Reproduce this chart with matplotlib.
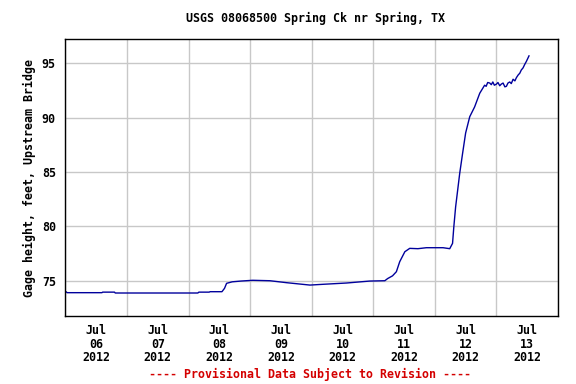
import numpy as np
import pandas as pd
import matplotlib
matplotlib.use("Agg")
import matplotlib.pyplot as plt
import matplotlib.dates as mdates

# hours after 2012-07-06 00:00 and gage height (ft)
hours = [0.0, 0.3, 0.6, 14.2, 14.5, 19.1, 19.4, 51.6, 52.0, 56.0, 56.4, 61.0, 62.0,
         62.8, 65.0, 68.4, 73.0, 79.7, 86.2, 95.3, 100.3, 109.6, 118.6, 124.5,
         125.6, 127.5, 129.0, 130.3, 132.3, 134.2, 137.4, 140.7, 147.2, 149.8,
         150.9, 151.4, 152.1, 153.7, 154.8, 156.0, 157.6, 159.5, 161.5, 163.4,
         164.0, 164.6, 165.4, 166.0, 166.6, 167.2, 168.0, 168.6, 169.3, 169.9,
         170.6, 171.3, 171.9, 172.5, 173.2, 173.8, 174.5, 175.2, 175.8, 176.5,
         177.1, 177.7, 178.4, 179.0, 179.7, 180.7]
stage = [73.93, 73.98, 73.90, 73.90, 73.95, 73.95, 73.87, 73.87, 73.95, 73.95,
         73.99, 73.99, 74.3, 74.76, 74.9, 74.97, 75.04, 75.0, 74.82, 74.6, 74.67,
         74.79, 74.97, 75.0, 75.2, 75.45, 75.83, 76.75, 77.67, 77.98, 77.95,
         78.04, 78.04, 77.95, 78.44, 79.97, 81.8, 84.9, 86.7, 88.6, 90.1, 91.0,
         92.26, 93.0, 92.9, 93.25, 93.2, 93.05, 93.3, 93.0, 93.1, 93.25, 92.95,
         93.1, 93.2, 92.85, 92.9, 93.2, 93.3, 93.15, 93.55, 93.4, 93.7, 93.95,
         94.1, 94.4, 94.6, 94.9, 95.2, 95.7]

start = pd.Timestamp("2012-07-06")
times = start + pd.to_timedelta(hours, unit="h")

title = "USGS 08068500 Spring Ck nr Spring, TX"
ylabel = "Gage height, feet, Upstream Bridge"
note = "---- Provisional Data Subject to Revision ----"
yticks = [75, 80, 85, 90, 95]

font = {"family": "DejaVu Sans Mono", "weight": "bold", "size": 8.4}

fig = plt.figure(figsize=(5.76, 3.84), dpi=100)
ax = fig.add_axes([0.1137, 0.177, 0.855, 0.7213])

ax.plot(times, stage, color="#00009c", linewidth=1.0)

ax.set_xlim(start, start + pd.Timedelta(days=8))
ax.set_ylim(71.75, 97.25)
ax.set_yticks(yticks)
ax.set_yticklabels([str(v) for v in yticks], fontdict=font)

ax.xaxis.set_major_locator(mdates.DayLocator())
ax.xaxis.set_major_formatter(plt.NullFormatter())
ax.xaxis.set_minor_locator(mdates.HourLocator(byhour=12))
ax.xaxis.set_minor_formatter(mdates.DateFormatter("%b\n%d\n%Y"))
for lab in ax.xaxis.get_minorticklabels():
    lab.set_fontfamily(font["family"])
    lab.set_fontweight("bold")
    lab.set_fontsize(font["size"])
    lab.set_linespacing(1.02)

ax.tick_params(axis="both", which="both", length=0)
ax.tick_params(axis="y", pad=7)
ax.tick_params(axis="x", which="minor", pad=6)
ax.grid(True, which="major", color="#c8c8c8", linewidth=1.0)
ax.set_axisbelow(True)
for s in ax.spines.values():
    s.set_linewidth(1.0)
    s.set_color("black")

ax.set_ylabel(ylabel, fontdict=font, labelpad=4)
fig.text(0.547, 0.953, title, ha="center", va="center", **font)
fig.text(0.539, 0.024, note, ha="center", va="center", color="#d40000", **font)

fig.savefig("out.png", dpi=100)
